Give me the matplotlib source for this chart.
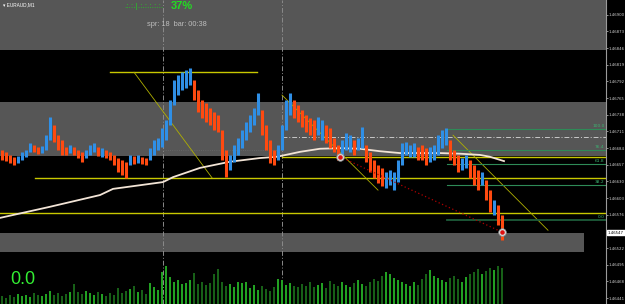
import matplotlib
matplotlib.use("Agg")
import matplotlib.pyplot as plt
import matplotlib.transforms as mtransforms

W, H = 625, 304
PLOT_W = 606  # largura da área de preços (px), o resto é a escala

# barras M1: máxima, mínima e direção (1 = alta/azul, 0 = baixa/laranja)
bar_hi = [1.46681, 1.46678, 1.46673, 1.46670, 1.46671, 1.46678, 1.46681, 1.46692, 1.46689, 1.46686,
          1.46687, 1.46705, 1.46734, 1.46721, 1.46705, 1.46697, 1.46686, 1.46689, 1.46686, 1.46681,
          1.46678, 1.46681, 1.46689, 1.46692, 1.46686, 1.46684, 1.46681, 1.46678, 1.46673, 1.46668,
          1.46665, 1.46662, 1.46673, 1.46671, 1.46673, 1.46670, 1.46668, 1.46684, 1.46697, 1.46700,
          1.46717, 1.46730, 1.46762, 1.46794, 1.46802, 1.46807, 1.46811, 1.46814, 1.46794, 1.46778,
          1.46762, 1.46757, 1.46749, 1.46743, 1.46738, 1.46713, 1.46681, 1.46673, 1.46689, 1.46700,
          1.46713, 1.46726, 1.46738, 1.46749, 1.46773, 1.46746, 1.46721, 1.46697, 1.46681, 1.46689,
          1.46721, 1.46762, 1.46773, 1.46762, 1.46754, 1.46746, 1.46738, 1.46733, 1.46730, 1.46734,
          1.46730, 1.46721, 1.46717, 1.46700, 1.46689, 1.46697, 1.46709, 1.46705, 1.46697, 1.46700,
          1.46718, 1.46689, 1.46678, 1.46665, 1.46657, 1.46652, 1.46645, 1.46649, 1.46645, 1.46665,
          1.46692, 1.46694, 1.46689, 1.46692, 1.46686, 1.46689, 1.46684, 1.46686, 1.46689, 1.46705,
          1.46713, 1.46717, 1.46697, 1.46681, 1.46673, 1.46668, 1.46673, 1.46665, 1.46657, 1.46649,
          1.46645, 1.46632, 1.46616, 1.46600, 1.46592, 1.46576]
bar_lo = [1.46665, 1.46663, 1.46660, 1.46657, 1.46660, 1.46665, 1.46670, 1.46678, 1.46678, 1.46675,
          1.46676, 1.46681, 1.46697, 1.46694, 1.46681, 1.46673, 1.46673, 1.46676, 1.46673, 1.46668,
          1.46662, 1.46668, 1.46673, 1.46678, 1.46671, 1.46670, 1.46668, 1.46665, 1.46657, 1.46645,
          1.46641, 1.46636, 1.46657, 1.46658, 1.46660, 1.46658, 1.46657, 1.46665, 1.46673, 1.46681,
          1.46686, 1.46697, 1.46721, 1.46754, 1.46770, 1.46778, 1.46781, 1.46786, 1.46762, 1.46743,
          1.46733, 1.46726, 1.46721, 1.46713, 1.46710, 1.46665, 1.46637, 1.46649, 1.46662, 1.46673,
          1.46684, 1.46697, 1.46710, 1.46721, 1.46738, 1.46705, 1.46681, 1.46660, 1.46657, 1.46665,
          1.46681, 1.46713, 1.46738, 1.46733, 1.46726, 1.46718, 1.46710, 1.46705, 1.46697, 1.46705,
          1.46697, 1.46692, 1.46684, 1.46678, 1.46665, 1.46673, 1.46681, 1.46678, 1.46673, 1.46681,
          1.46684, 1.46662, 1.46645, 1.46636, 1.46628, 1.46623, 1.46619, 1.46624, 1.46616, 1.46629,
          1.46657, 1.46673, 1.46670, 1.46670, 1.46665, 1.46665, 1.46657, 1.46662, 1.46665, 1.46673,
          1.46684, 1.46689, 1.46665, 1.46657, 1.46645, 1.46649, 1.46652, 1.46636, 1.46624, 1.46616,
          1.46624, 1.46600, 1.46581, 1.46576, 1.46560, 1.46535]
bar_up = [0, 0, 0, 0, 1, 1, 1, 1, 0, 0,
          1, 1, 1, 0, 0, 0, 0, 1, 0, 0,
          0, 1, 1, 1, 0, 1, 0, 0, 0, 0,
          0, 0, 1, 0, 1, 0, 0, 1, 1, 1,
          1, 1, 1, 1, 1, 1, 1, 1, 0, 0,
          0, 0, 0, 0, 0, 0, 0, 1, 1, 1,
          1, 1, 1, 1, 1, 0, 0, 0, 0, 1,
          1, 1, 1, 0, 0, 0, 0, 0, 0, 1,
          1, 0, 0, 0, 0, 1, 1, 1, 0, 1,
          1, 0, 0, 0, 0, 0, 1, 1, 1, 1,
          1, 1, 1, 1, 0, 0, 0, 1, 1, 1,
          1, 1, 0, 0, 0, 1, 1, 0, 0, 0,
          1, 0, 0, 1, 0, 0]
volume = [8, 6, 9, 7, 10, 8, 9, 7, 11, 9,
          8, 10, 13, 9, 11, 8, 10, 12, 20, 12,
          10, 13, 11, 9, 12, 10, 8, 11, 9, 16,
          11, 13, 15, 18, 12, 14, 10, 21, 17, 14,
          32, 38, 27, 22, 24, 20, 21, 24, 31, 20,
          22, 19, 21, 30, 35, 22, 18, 20, 17, 22,
          21, 22, 16, 19, 14, 18, 15, 13, 17, 25,
          24, 19, 21, 18, 17, 20, 18, 22, 17, 19,
          21, 16, 23, 20, 18, 22, 19, 17, 21, 24,
          20, 18, 22, 25, 23, 28, 32, 30, 26, 24,
          22, 20, 18, 22, 19, 25, 30, 34, 28, 26,
          24, 22, 26, 28, 25, 22, 27, 30, 32, 35,
          30, 33, 36, 34, 38, 36]

# média móvel
ma_x = [-0.5, 12, 24.5, 27.75, 40.25, 42.75, 49.5, 57, 64.5, 68.75, 74.5,
        79.5, 84.5, 89.5, 94.5, 99.5, 109.5, 114.5, 119.5, 122, 125.5]
ma_y = [1.46571, 1.46589, 1.46608, 1.46618, 1.46629, 1.46637, 1.46652, 1.46662, 1.46668, 1.46670, 1.46678,
        1.46683, 1.46684, 1.46683, 1.46679, 1.46676, 1.46676, 1.46675, 1.46673, 1.46670, 1.46663]

# zonas cinzas (preço baixo, preço alto, fim em x)
zone_lo = [1.46843, 1.46671, 1.46516]
zone_hi = [1.46930, 1.46759, 1.46547]
zone_end = [151, 151, 145.5]

# linhas horizontais amarelas (preço, início, fim)
hline_y = [1.46807, 1.46670, 1.46636, 1.46579]
hline_x0 = [27, 70, 8.25, -0.5]
hline_x1 = [63.75, 151, 151, 151]

# linhas de tendência finas
trend_x = [[33, 52.5], [70, 94], [112.75, 136.5]]
trend_y = [[1.46807, 1.46636], [1.46770, 1.46616], [1.46705, 1.46551]]

# Fibonacci
fib_hi, fib_lo, fib_x0 = 1.46715, 1.46568, 111.25
fib_levels = [100.0, 76.4, 61.8, 38.2, 0.0]

# separadores de período e demais marcas
sep_x = [40.25, 70]
dashdot_y, dashdot_x0 = 1.46702, 70
red_x = [84.5, 125]
red_y = [1.46670, 1.46548]
price_now = 1.46547

tick_vals = [1.46900, 1.46873, 1.46846, 1.46819, 1.46792, 1.46765, 1.46738, 1.46711, 1.46684,
             1.46657, 1.46630, 1.46603, 1.46576, 1.46522, 1.46495, 1.46468, 1.46441]

UP, DOWN = "#2f8fe6", "#ff4a10"
GRAY_ZONE = "#565656"
YELLOW = "#c8c800"

fig = plt.figure(figsize=(W / 100, H / 100), dpi=100, facecolor="black")
ax = fig.add_axes([0, 0, PLOT_W / W, 1])
ax.set_facecolor("black")
ax.set_xlim(-0.5, 151)
ax.set_ylim(1.464315, 1.46924)

for lo, hi, end in zip(zone_lo, zone_hi, zone_end):
    ax.fill_between([-0.5, end], lo, hi, color=GRAY_ZONE, lw=0, zorder=0)

for x in sep_x:
    ax.axvline(x, color="#8a8a8a", lw=0.7, ls=(0, (5, 2, 1, 2)), zorder=1)

ax.plot([40.25, 70], [1.46681, 1.46681], color="#6a6a6a", lw=0.6, ls=":", zorder=1)
ax.plot([dashdot_x0, 151], [dashdot_y] * 2, color="#c8c8c8", lw=0.7, ls=(0, (5, 2, 1, 2)), zorder=2)

for y, x0, x1 in zip(hline_y, hline_x0, hline_x1):
    ax.plot([x0, x1], [y, y], color=YELLOW, lw=1.0, zorder=2)

for tx, ty in zip(trend_x, trend_y):
    ax.plot(tx, ty, color="#b0b000", lw=0.6, zorder=2)

for lev in fib_levels:
    y = fib_lo + (fib_hi - fib_lo) * lev / 100
    col = "#1d5c3a" if lev == 0 else "#2e8b57"
    ax.plot([fib_x0, 151], [y, y], color=col, lw=1.3 if lev == 0 else 0.8, zorder=2)
    ax.text(150.6, y + 0.000015, f"{lev:.1f}", color="#3cb371", fontsize=3.2,
            ha="right", va="bottom", family="DejaVu Sans", zorder=3)
ax.plot([fib_x0, fib_x0], [fib_hi, fib_hi - 0.0002], color="#2e8b57", lw=0.6, zorder=2)

ax.plot(ma_x, ma_y, color="#f2e4d6", lw=1.3, zorder=3)

xs = list(range(len(bar_hi)))
colors = [UP if u else DOWN for u in bar_up]
ax.vlines(xs, bar_lo, bar_hi, colors=colors, lw=2.2, zorder=4)

ax.plot(red_x, red_y, color="#b00000", lw=0.9, ls=(0, (1, 2)), zorder=5)
ax.scatter(red_x, red_y, s=30, facecolor="#d8d8d8", edgecolor="#909090", lw=0.5, zorder=6)
ax.scatter(red_x, red_y, s=5, color="#e01010", zorder=7)

# escala de preços
for s in ["top", "left", "bottom"]:
    ax.spines[s].set_visible(False)
ax.spines["right"].set_color("#9a9a9a")
ax.spines["right"].set_linewidth(0.8)
ax.set_xticks([])
ax.yaxis.tick_right()
ax.set_yticks(tick_vals)
ax.set_yticklabels([f"{v:.5f}" for v in tick_vals])
ax.tick_params(axis="y", colors="#d0d0d0", labelsize=2.8, length=1.2, width=0.5, pad=0.6)

trans = mtransforms.blended_transform_factory(ax.transAxes, ax.transData)
ax.text(1.003, price_now, f"{price_now:.5f}", transform=trans, fontsize=2.8, color="black",
        va="center", ha="left", bbox=dict(boxstyle="square,pad=0.2", fc="white", ec="white"),
        clip_on=False)

# volumes
axv = fig.add_axes([0, 0, PLOT_W / W, 52 / H])
axv.set_xlim(-0.5, 151)
axv.set_ylim(0, 52)
axv.patch.set_alpha(0)
axv.axis("off")
vcol = ["#22a022" if u else "#176017" for u in bar_up]
axv.bar(xs, volume, width=0.45, color=vcol)

# textos
fig.text(3 / W, 1 - 5 / H, "▾ EURAUD,M1", color="white", fontsize=3.4, va="center",
         family=["Liberation Sans", "DejaVu Sans"])
fig.text(124 / W, 1 - 7 / H, ".:.:.|.:.:.:.:.:.", color="#22cc22", fontsize=5, va="center")
fig.text(171 / W, 1 - 6 / H, "37%", color="#22dd22", fontsize=8, fontweight="bold", va="center",
         family="Liberation Sans")
fig.text(147 / W, 1 - 25 / H, "spr: 18  bar: 00:38", color="#bdbdbd", fontsize=5.3, va="center",
         family="Liberation Sans")
fig.text(10 / W, 1 - 280 / H, "0.0", color="#33ee33", fontsize=13, va="center",
         family="Liberation Sans")

fig.savefig("out.png", dpi=100, facecolor="black")
